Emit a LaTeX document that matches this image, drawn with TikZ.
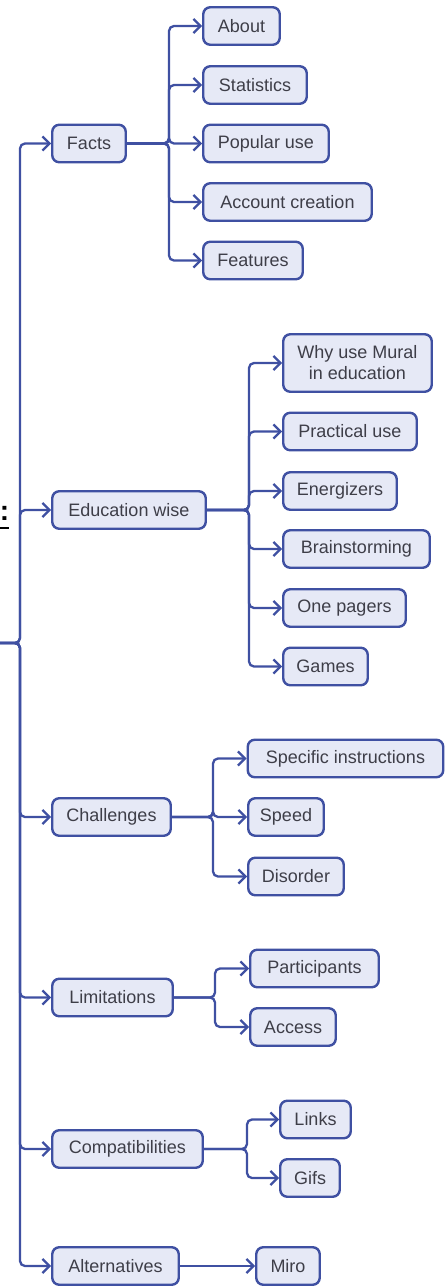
\documentclass[tikz,border=0pt]{standalone}
\usepackage{fontspec}
\setmainfont{Liberation Sans}
\usetikzlibrary{arrows.meta}
\definecolor{bordc}{HTML}{3F50A2}
\definecolor{fillc}{HTML}{E6E9F6}
\definecolor{textc}{HTML}{3E3E48}
\begin{document}
\begin{tikzpicture}[x=1pt,y=-1pt,
  box/.style={draw=bordc,fill=fillc,line width=2.4pt,rounded corners=7pt,
    text=textc,font=\fontsize{18}{21}\selectfont,align=center,
    minimum height=37.5pt,inner sep=0pt},
  link/.style={draw=bordc,line width=2.3pt,rounded corners=5pt},
  arr/.style={link,-{Straight Barb[length=7pt,width=14pt,line width=2.3pt]}}]
\useasboundingbox (0,0) rectangle (446,1286);
% root (cut off at left)
\node[anchor=east,inner sep=0pt,font=\fontsize{28}{30}\selectfont\bfseries] (root) at (9.5,513) {:};
\draw[line width=1.8pt,black] (0,528) -- (8.5,528);
\coordinate (rootend) at (0,643);
% level 1
\node[box,minimum width=73.5pt] (facts) at (89,143.5) {Facts};
\node[box,minimum width=153.5pt] (edu) at (129,510) {Education wise};
\node[box,minimum width=118.5pt] (chal) at (111.5,817) {Challenges};
\node[box,minimum width=120.5pt] (lim) at (112.5,997.5) {Limitations};
\node[box,minimum width=150.5pt] (comp) at (127.5,1149) {Compatibilities};
\node[box,minimum width=126.5pt] (alt) at (115.5,1266) {Alternatives};
% facts children
\node[box,minimum width=76.5pt] (about) at (241.5,26) {About};
\node[box,minimum width=103.5pt] (stat) at (255,85) {Statistics};
\node[box,minimum width=125.5pt] (pop) at (266,143.5) {Popular use};
\node[box,minimum width=168.5pt] (acc) at (287.5,202) {Account creation};
\node[box,minimum width=99.5pt] (feat) at (253,260.5) {Features};
% education children
\node[box,minimum width=148.5pt,minimum height=57.5pt] (why) at (357.5,363) {Why use Mural\\in education};
\node[box,minimum width=133.5pt] (prac) at (350,431.5) {Practical use};
\node[box,minimum width=113.5pt] (ener) at (340,491) {Energizers};
\node[box,minimum width=146.5pt] (brain) at (356.5,549) {Brainstorming};
\node[box,minimum width=122.5pt] (one) at (344.5,608) {One pagers};
\node[box,minimum width=84.5pt] (games) at (325.5,666.5) {Games};
% challenges children
\node[box,minimum width=195.5pt] (spec) at (345.5,758.5) {Specific instructions};
\node[box,minimum width=75.5pt] (speed) at (286,817) {Speed};
\node[box,minimum width=95.5pt] (dis) at (296,876.5) {Disorder};
% limitations children
\node[box,minimum width=128.5pt] (part) at (314.5,968.5) {Participants};
\node[box,minimum width=85.5pt] (access) at (293,1027) {Access};
% compat children
\node[box,minimum width=70.5pt] (links) at (315.5,1119.5) {Links};
\node[box,minimum width=59.5pt] (gifs) at (310,1178) {Gifs};
% alternatives child
\node[box,minimum width=63.5pt] (miro) at (288,1266) {Miro};
% spine
\foreach \n in {facts,edu,chal,lim,comp,alt}
  \draw[arr] (rootend) -- (20,643) |- (\n.west);
% branches
\foreach \n in {about,stat,pop,acc,feat}
  \draw[arr] (facts.east) -- (169,143.5) |- (\n.west);
\foreach \n in {why,prac,ener,brain,one,games}
  \draw[arr] (edu.east) -- (249,510) |- (\n.west);
\foreach \n in {spec,speed,dis}
  \draw[arr] (chal.east) -- (213,817) |- (\n.west);
\foreach \n in {part,access}
  \draw[arr] (lim.east) -- (215,997.5) |- (\n.west);
\foreach \n in {links,gifs}
  \draw[arr] (comp.east) -- (247,1149) |- (\n.west);
\draw[arr] (alt.east) -- (miro.west);
\end{tikzpicture}
\end{document}
